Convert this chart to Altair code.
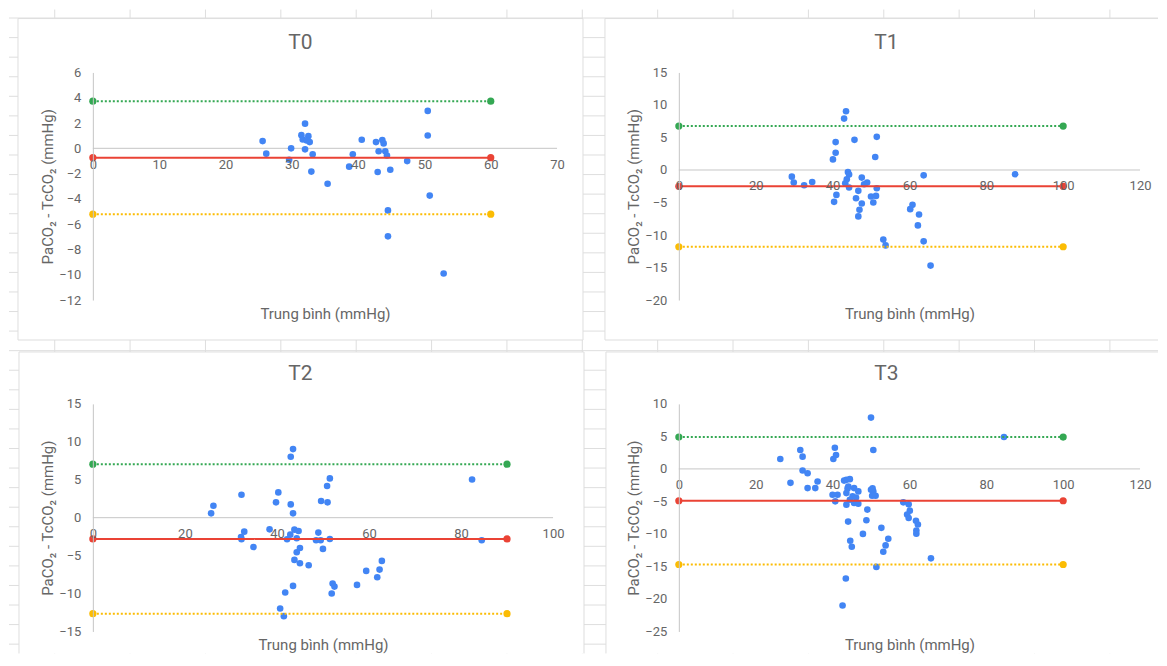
import altair as alt
import pandas as pd

# ---------------- data ----------------
titles = ["T0", "T1", "T2", "T3"]

t0_mean = [25.6, 26.15, 29.9, 29.6, 32.0, 31.45, 31.65, 32.5, 32.25, 32.7, 32.0, 33.15,
           32.95, 35.4, 39.2, 38.65, 40.55, 42.7, 43.65, 43.85, 43.1, 44.1, 44.35, 42.95,
           44.85, 44.5, 44.5, 47.4, 50.5, 50.5, 50.8, 52.9]
t0_diff = [0.57, -0.42, 0.0, -0.9, 1.95, 1.04, 0.7, 0.96, 0.62, 0.49, -0.08, -0.47,
           -1.84, -2.8, -0.47, -1.45, 0.68, 0.49, 0.65, 0.39, -0.23, -0.23, -0.57, -1.87,
           -1.69, -4.91, -6.96, -1.01, 2.96, 1.01, -3.74, -9.9]

t1_mean = [29.4, 29.9, 32.6, 34.7, 40.8, 40.8, 40.1, 43.5, 43.0, 45.7, 51.5, 51.1, 44.0,
           44.3, 43.7, 43.3, 44.3, 47.6, 49.0, 48.2, 46.7, 51.5, 41.0, 40.4, 46.1, 47.6,
           47.0, 46.7, 50.0, 51.3, 50.6, 53.2, 53.8, 60.8, 60.2, 62.5, 62.2, 63.7, 63.7,
           65.5, 87.5]
t1_diff = [-1.02, -1.94, -2.35, -1.84, 4.29, 2.65, 1.63, 9.03, 7.9, 4.64, 5.1, 1.99, -0.31,
           -0.71, -1.43, -2.04, -2.7, -1.17, -1.94, -2.19, -3.21, -2.8, -3.83, -4.9, -4.34,
           -5.15, -6.12, -7.14, -4.08, -3.98, -5.0, -10.7, -11.6, -5.36, -6.02, -6.84,
           -8.52, -10.97, -0.82, -14.7, -0.66]

t2_mean = [25.7, 26.2, 32.3, 32.3, 32.2, 32.9, 34.9, 38.4, 39.8, 40.3, 43.0, 43.5, 43.0,
           43.5, 43.8, 44.7, 42.9, 42.2, 44.3, 45.0, 44.3, 43.8, 45.0, 46.9, 43.5, 41.8,
           40.7, 41.5, 49.0, 48.5, 49.5, 50.0, 49.6, 51.0, 50.9, 51.5, 51.5, 52.1, 52.5,
           51.9, 57.4, 59.4, 61.8, 62.3, 62.8, 82.4, 84.5]
t2_diff = [0.57, 1.58, 3.03, -2.85, -2.54, -1.84, -3.86, -1.54, 2.02, 3.33, 8.03, 9.04,
           1.75, 0.57, -1.58, -1.75, -2.24, -2.85, -2.72, -3.99, -4.56, -5.57, -6.0, -6.27,
           -8.99, -9.87, -11.97, -12.98, -1.97, -2.98, -2.98, -4.12, 2.19, 2.02, 4.17,
           5.18, -2.81, -8.68, -9.08, -10.0, -8.86, -7.02, -7.85, -6.84, -5.7, 5.04, -2.98]

t3_mean = [26.4, 29.05, 31.6, 32.2, 32.2, 33.5, 33.5, 35.5, 36.1, 40.6, 40.9, 40.2, 40.0,
           41.3, 40.7, 43.6, 44.5, 43.0, 44.1, 43.9, 45.6, 46.7, 43.6, 45.2, 46.1, 44.5,
           43.6, 45.6, 46.7, 49.05, 44.05, 48.8, 47.9, 44.6, 45.0, 43.45, 42.6, 50.0, 50.6,
           50.0, 50.6, 51.2, 50.3, 50.4, 52.7, 54.5, 53.8, 53.2, 51.4, 58.4, 59.8, 60.1,
           59.4, 59.8, 61.7, 62.2, 61.8, 61.8, 65.6, 84.6]
t3_diff = [1.53, -2.14, 2.9, 1.88, -0.25, -0.66, -2.95, -2.95, -1.93, 3.26, 2.14, 1.53,
           -3.97, -3.97, -4.99, -1.68, -1.58, -1.8, -2.7, -3.0, -2.95, -3.46, -3.72, -4.23,
           -4.4, -4.74, -5.5, -5.24, -5.35, -6.26, -8.1, -7.9, -10.0, -11.05, -11.97,
           -16.85, -21.0, 7.89, 2.9, -3.2, -3.46, -4.12, -4.12, -3.0, -9.06, -10.74,
           -11.76, -12.73, -15.07, -5.14, -5.45, -6.42, -7.03, -7.54, -7.99, -8.55, -9.47,
           -9.98, -13.75, 4.9]

# limits of agreement: upper, bias, lower
loa_t0 = [3.73, -0.74, -5.21]
loa_t1 = [6.75, -2.5, -11.8]
loa_t2 = [7.05, -2.8, -12.65]
loa_t3 = [4.9, -4.9, -14.7]
loa_kinds = ["upper", "bias", "lower"]
line_ends = [60, 100, 90, 100]

x_ticks_t0 = [0, 10, 20, 30, 40, 50, 60, 70]
x_ticks_t1 = [0, 20, 40, 60, 80, 100, 120]
x_ticks_t2 = [0, 20, 40, 60, 80, 100]
x_ticks_t3 = [0, 20, 40, 60, 80, 100, 120]
y_ticks_t0 = [6, 4, 2, 0, -2, -4, -6, -8, -10, -12]
y_ticks_t1 = [15, 10, 5, 0, -5, -10, -15, -20]
y_ticks_t2 = [15, 10, 5, 0, -5, -10, -15]
y_ticks_t3 = [10, 5, 0, -5, -10, -15, -20, -25]

x_title = "Trung bình (mmHg)"
y_title = "PaCO₂ - TcCO₂ (mmHg)"

# ---------------- styling ----------------
FONT = "Roboto"
TXT = "#666666"
AXIS_LINE = "#c6c6c6"
SHEET = "#dedede"
BLUE = "#4285F4"
LOA_COLORS = ["#34A853", "#EA4335", "#FBBC04"]
LOA_DASH = [[2, 2], [1, 0], [2, 2]]
H = 228

one = pd.DataFrame({"k": [0]})


def seg(x1, x2, y1, y2, color=SHEET):
    return alt.Chart(one).mark_rule(color=color, strokeWidth=1).encode(
        x=alt.value(x1), x2=alt.value(x2), y=alt.value(y1), y2=alt.value(y2))


def panel(title, means, diffs, loa, end, xticks, yticks, width, origin, box, sides, grid=False):
    ox, oy = origin
    xdom = [xticks[0], xticks[-1]]
    ydom = [min(yticks), max(yticks)]
    y0 = H * ydom[1] / (ydom[1] - ydom[0])
    below = H - y0

    xs = alt.Scale(domain=xdom, nice=False, zero=False)
    ys = alt.Scale(domain=ydom, nice=False, zero=False)
    xaxis = alt.Axis(values=xticks, offset=-below, domain=False, ticks=False, tickSize=0,
                     grid=False, labelPadding=16, labelBaseline="middle", labelFlush=False,
                     labelOverlap=False,
                     labelFont=FONT, labelFontSize=13, labelColor=TXT,
                     title=x_title, titleFont=FONT, titleFontSize=15, titleFontWeight="normal",
                     titleColor=TXT, titleY=below + 13, titleBaseline="middle", zindex=1)
    yaxis = alt.Axis(values=yticks, domain=True, domainColor=AXIS_LINE, domainWidth=1,
                     ticks=False, tickSize=0, grid=False, labelPadding=12, labelFlush=False,
                     labelOverlap=False,
                     labelFont=FONT, labelFontSize=13, labelColor=TXT,
                     title=y_title, titleFont=FONT, titleFontSize=15, titleFontWeight="normal",
                     titleColor=TXT, titleX=-45, titleBaseline="middle", zindex=1)

    layers = []
    if grid:
        k = 0
        while 16.5 + k * 19.6 <= 653:
            yy = 16.5 + k * 19.6 - oy
            layers.append(seg(8 - ox, 1159 - ox, yy, yy))
            k += 1
        for k in range(15):
            xx = 53.8 + k * 75.5 - ox
            layers.append(seg(xx, xx, 8 - oy, 653 - oy))

    bx1, by1, bx2, by2 = [box[0] - ox, box[1] - oy, box[2] - ox, box[3] - oy]
    layers.append(alt.Chart(one).mark_rect(color="white").encode(
        x=alt.value(bx1), x2=alt.value(bx2), y=alt.value(by1), y2=alt.value(by2)))
    if "top" in sides:
        layers.append(seg(bx1, bx2, by1, by1))
    if "left" in sides:
        layers.append(seg(bx1, bx1, by1, by2))
    if "right" in sides:
        layers.append(seg(bx2, bx2, by1, by2))
    if "bottom" in sides:
        layers.append(seg(bx1, bx2, by2, by2))

    df = pd.DataFrame({"mean": means, "diff": diffs})
    scatter = alt.Chart(df).mark_circle(size=44, color=BLUE, opacity=1).encode(
        x=alt.X("mean:Q", scale=xs, axis=xaxis),
        y=alt.Y("diff:Q", scale=ys, axis=yaxis))

    # zero line (horizontal axis line)
    zero_df = pd.DataFrame({"z": [0]})
    zero = alt.Chart(zero_df).mark_rule(color=AXIS_LINE, strokeWidth=1).encode(
        x=alt.value(0), x2=alt.value(width), y=alt.Y("z:Q", scale=ys, axis=yaxis))

    ldf = pd.DataFrame({
        "kind": [k for k in loa_kinds for _ in range(2)],
        "x": [v for _ in loa_kinds for v in (0, end)],
        "y": [v for v in loa for _ in range(2)],
    })
    cscale = alt.Scale(domain=loa_kinds, range=LOA_COLORS)
    lines = alt.Chart(ldf).mark_line(strokeWidth=2).encode(
        x=alt.X("x:Q", scale=xs, axis=xaxis), y=alt.Y("y:Q", scale=ys, axis=yaxis),
        color=alt.Color("kind:N", scale=cscale, legend=None),
        strokeDash=alt.StrokeDash("kind:N", scale=alt.Scale(domain=loa_kinds, range=LOA_DASH),
                                  legend=None),
        detail="kind:N")
    ends = alt.Chart(ldf).mark_circle(size=52, opacity=1).encode(
        x=alt.X("x:Q", scale=xs, axis=xaxis), y=alt.Y("y:Q", scale=ys, axis=yaxis),
        color=alt.Color("kind:N", scale=cscale, legend=None))

    ttl = alt.Chart(one).mark_text(text=title, font=FONT, fontSize=21, color=TXT,
                                   align="center", baseline="middle").encode(
        x=alt.value(208), y=alt.value(-29.5))

    layers += [zero, scatter, lines, ends, ttl]
    return alt.layer(*layers).properties(width=width, height=H)


p0 = panel(titles[0], t0_mean, t0_diff, loa_t0, line_ends[0], x_ticks_t0, y_ticks_t0, 465,
           (92, 71), (17, 17, 583, 339), ["top", "left", "right", "bottom"], grid=True)
p1 = panel(titles[1], t1_mean, t1_diff, loa_t1, line_ends[1], x_ticks_t1, y_ticks_t1, 462,
           (679, 71), (605, 17, 1159, 339), ["top", "left", "bottom"])
p2 = panel(titles[2], t2_mean, t2_diff, loa_t2, line_ends[2], x_ticks_t2, y_ticks_t2, 461,
           (92, 403), (18, 351, 584, 653), ["top", "left", "right"])
p3 = panel(titles[3], t3_mean, t3_diff, loa_t3, line_ends[3], x_ticks_t3, y_ticks_t3, 462,
           (679, 403), (606, 351, 1159, 653), ["top", "left"])

chart = alt.concat(p0, p1, p2, p3, columns=2, spacing={"row": 104, "column": 122},
                   bounds="flush").properties(
    padding={"left": 0, "top": 0, "right": 0, "bottom": 0},
    background="white",
).configure_view(stroke=None).configure_axis(labelOverlap=False)

chart.save("out.html", embed_options={"renderer": "svg", "actions": False})
